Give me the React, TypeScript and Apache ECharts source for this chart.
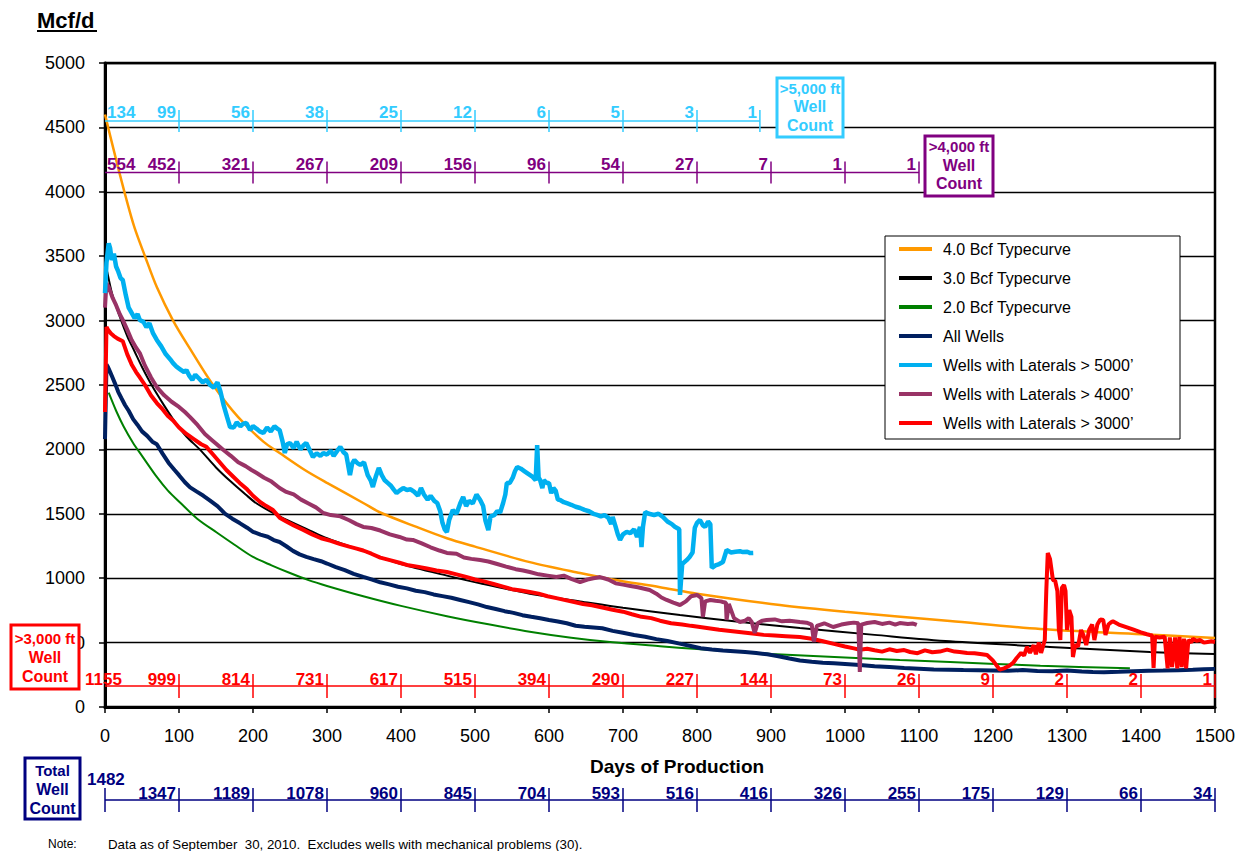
import React, { useEffect, useRef } from 'react';
import * as echarts from 'echarts';

const FONT = 'Arial, "Liberation Sans", Helvetica, sans-serif';

const legendNames = [
  '4.0 Bcf Typecurve',
  '3.0 Bcf Typecurve',
  '2.0 Bcf Typecurve',
  'All Wells',
  'Wells with Laterals > 5000\u2019',
  'Wells with Laterals > 4000\u2019',
  'Wells with Laterals > 3000\u2019',
];

const xTicks = { min: 0, max: 1500, step: 100 };
const yTicks = { min: 0, max: 5000, step: 500 };

const typecurve40 = [[0,4600],[15,4250],[29,3940],[40,3720],[54,3500],[70,3260],[92,3000],[115,2780],[146,2500],[180,2250],[214,2060],[236,1972],[270,1840],[300,1740],[349,1584],[372,1510],[420,1400],[462,1310],[500,1245],[574,1125],[642,1040],[686,990],[750,930],[800,880],[912,792],[1000,740],[1142,668],[1264,605],[1400,565],[1500,536]];

const typecurve30 = [[3,3380],[10,3200],[20,3030],[30,2880],[40,2760],[50,2640],[63,2500],[80,2340],[95,2210],[110,2100],[128,2000],[150,1860],[170,1750],[190,1650],[205,1580],[236,1480],[277,1370],[300,1310],[349,1210],[400,1110],[462,1020],[507,960],[574,880],[642,820],[700,770],[777,714],[850,665],[939,613],[1040,560],[1142,510],[1277,466],[1412,427],[1500,411]];

const typecurve20 = [[5,2440],[15,2300],[25,2180],[38,2050],[50,1950],[70,1786],[85,1680],[101,1590],[125,1460],[151,1355],[175,1260],[200,1165],[225,1100],[250,1040],[275,985],[300,940],[349,860],[400,785],[462,705],[520,640],[574,585],[630,538],[686,502],[750,472],[800,450],[900,412],[1000,385],[1074,365],[1142,350],[1264,320],[1385,300]];

const allWells = [[0,2080],[2,2660],[4,2640],[7,2600],[10,2560],[14,2505],[18,2445],[22,2400],[27,2345],[32,2300],[38,2235],[44,2190],[50,2140],[57,2105],[64,2060],[70,2040],[78,1965],[86,1895],[94,1840],[100,1800],[108,1745],[115,1705],[124,1672],[133,1640],[142,1603],[152,1560],[162,1502],[172,1462],[182,1428],[192,1392],[200,1360],[210,1338],[220,1322],[228,1296],[236,1281],[245,1248],[254,1212],[263,1185],[272,1166],[282,1148],[292,1132],[300,1114],[312,1086],[324,1062],[336,1033],[349,1010],[360,991],[372,968],[384,952],[396,934],[408,921],[420,903],[432,892],[444,874],[456,861],[468,848],[480,831],[492,814],[504,797],[516,776],[528,761],[540,744],[552,731],[564,713],[576,700],[588,689],[600,676],[612,664],[624,650],[636,631],[648,623],[660,617],[672,611],[686,591],[700,576],[715,559],[730,546],[745,527],[760,513],[775,494],[790,476],[805,456],[820,446],[835,439],[850,433],[865,427],[880,419],[895,409],[910,394],[925,376],[939,361],[955,351],[970,344],[985,339],[1000,334],[1020,326],[1040,317],[1060,311],[1080,302],[1100,297],[1120,291],[1140,290],[1160,287],[1180,286],[1200,284],[1220,281],[1240,287],[1260,279],[1280,278],[1300,283],[1320,276],[1335,272],[1350,269],[1370,273],[1390,278],[1410,281],[1430,283],[1450,286],[1470,289],[1485,293],[1500,296]];

const laterals3000 = [[0,2290],[2,2950],[4,2930],[8,2900],[12,2880],[17,2860],[24,2840],[30,2740],[36,2660],[42,2600],[47,2560],[54,2500],[62,2420],[70,2360],[78,2310],[85,2260],[92,2225],[100,2170],[110,2120],[120,2080],[130,2040],[137,2020],[146,1960],[155,1900],[164,1840],[173,1790],[182,1740],[192,1690],[200,1640],[210,1590],[218,1560],[227,1530],[236,1470],[245,1440],[255,1410],[268,1375],[280,1340],[292,1310],[305,1290],[318,1265],[330,1245],[340,1230],[349,1215],[360,1190],[372,1160],[385,1140],[398,1120],[410,1100],[422,1090],[435,1075],[448,1060],[462,1048],[475,1030],[488,1010],[500,990],[512,975],[525,955],[538,935],[550,915],[562,905],[574,893],[586,880],[598,860],[610,845],[622,830],[634,815],[646,800],[658,790],[669,776],[686,755],[700,740],[712,720],[725,700],[738,690],[750,670],[765,650],[780,640],[792,630],[804,621],[818,610],[830,600],[845,590],[860,580],[875,570],[890,560],[905,555],[920,550],[939,543],[955,530],[970,510],[985,490],[1000,470],[1012,455],[1020,445],[1030,452],[1040,440],[1050,430],[1060,448],[1070,435],[1080,442],[1088,427],[1098,418],[1108,440],[1118,425],[1128,430],[1138,445],[1148,430],[1155,427],[1165,420],[1175,418],[1185,410],[1192,404],[1200,360],[1209,290],[1215,300],[1222,320],[1227,342],[1232,380],[1238,420],[1242,400],[1246,466],[1250,420],[1255,480],[1258,410],[1262,500],[1265,420],[1270,520],[1272,900],[1274,1196],[1277,1150],[1281,986],[1284,980],[1287,900],[1289,600],[1291,520],[1293,924],[1296,947],[1298,900],[1300,598],[1303,753],[1306,700],[1308,388],[1311,481],[1315,470],[1319,598],[1322,560],[1326,481],[1330,600],[1334,640],[1337,520],[1341,640],[1345,680],[1349,675],[1352,559],[1356,640],[1360,660],[1362,665],[1370,640],[1380,620],[1390,600],[1400,580],[1408,565],[1412,559],[1415,555],[1417,303],[1419,545],[1425,540],[1432,545],[1436,300],[1439,540],[1442,310],[1446,540],[1449,300],[1452,545],[1455,310],[1458,530],[1461,300],[1464,520],[1468,500],[1470,530],[1475,515],[1480,520],[1485,500],[1490,505],[1495,510],[1500,505]];

const laterals4000 = [[0,3100],[2,3290],[5,3260],[10,3180],[15,3120],[20,3050],[24,3005],[30,2930],[36,2850],[42,2790],[47,2748],[54,2650],[62,2560],[70,2484],[80,2420],[90,2370],[100,2330],[108,2290],[115,2251],[125,2190],[135,2120],[145,2070],[153,2030],[160,1995],[170,1950],[180,1900],[190,1870],[198,1840],[205,1817],[215,1780],[225,1750],[236,1700],[245,1670],[255,1650],[265,1610],[275,1580],[285,1550],[295,1506],[305,1490],[318,1480],[330,1450],[340,1420],[349,1398],[360,1390],[372,1370],[385,1340],[398,1320],[408,1300],[416,1297],[428,1270],[440,1240],[452,1215],[462,1196],[475,1190],[485,1160],[495,1150],[507,1141],[518,1130],[530,1110],[542,1090],[555,1070],[565,1060],[574,1048],[586,1030],[598,1020],[610,1010],[620,1020],[630,995],[642,970],[652,990],[660,1000],[669,1009],[680,990],[690,960],[700,950],[710,940],[720,930],[736,908],[745,880],[752,850],[759,831],[768,810],[777,792],[785,820],[792,860],[800,870],[806,845],[808,699],[811,820],[818,831],[825,825],[832,820],[835,815],[839,810],[840,676],[843,800],[850,690],[858,660],[865,670],[870,690],[874,660],[878,575],[882,650],[888,670],[894,675],[905,680],[915,665],[925,670],[939,660],[948,655],[955,640],[958,505],[962,630],[972,650],[984,621],[995,640],[1005,650],[1012,655],[1018,650],[1020,272],[1022,640],[1030,652],[1040,660],[1050,645],[1060,655],[1068,640],[1074,652],[1085,645],[1092,648],[1097,637]];

const laterals5000 = [[0,3214],[2,3450],[5,3600],[7,3560],[9,3470],[12,3520],[15,3420],[18,3380],[21,3330],[24,3315],[28,3200],[32,3100],[36,3060],[40,3020],[44,3050],[47,3005],[52,2990],[56,2950],[60,2980],[65,2900],[70,2850],[76,2800],[82,2740],[88,2700],[92,2670],[97,2640],[102,2620],[107,2600],[110,2616],[114,2570],[118,2540],[122,2580],[127,2550],[132,2520],[137,2540],[142,2500],[147,2480],[152,2520],[156,2450],[160,2350],[165,2250],[169,2174],[174,2170],[178,2210],[183,2180],[187,2200],[191,2205],[196,2150],[200,2180],[205,2160],[209,2140],[214,2127],[219,2170],[224,2140],[229,2180],[233,2160],[236,2150],[240,2060],[243,1972],[246,2040],[250,2050],[255,2010],[259,2060],[264,2000],[268,2030],[272,2050],[277,1990],[281,1941],[286,1970],[291,1950],[295,1972],[300,1960],[305,1990],[309,1950],[314,1990],[318,2019],[322,1980],[326,1960],[331,1800],[334,1890],[337,1918],[341,1894],[345,1880],[350,1900],[355,1800],[359,1760],[362,1708],[366,1790],[370,1856],[374,1800],[378,1760],[382,1740],[386,1720],[390,1690],[394,1661],[398,1680],[403,1700],[408,1685],[413,1690],[418,1670],[423,1640],[427,1700],[431,1650],[436,1610],[440,1640],[445,1600],[449,1584],[453,1520],[456,1430],[459,1380],[462,1359],[465,1450],[470,1530],[475,1500],[480,1580],[484,1630],[488,1560],[492,1600],[497,1580],[502,1650],[507,1607],[511,1560],[514,1450],[518,1374],[521,1480],[526,1490],[530,1520],[534,1510],[538,1584],[541,1650],[543,1739],[547,1740],[551,1780],[554,1830],[557,1863],[562,1850],[567,1830],[572,1810],[578,1786],[582,1760],[584,2034],[586,1780],[588,1762],[591,1700],[593,1760],[597,1740],[600,1740],[603,1660],[606,1700],[609,1680],[612,1610],[615,1607],[620,1590],[625,1580],[630,1570],[636,1555],[642,1545],[648,1530],[654,1520],[660,1500],[665,1491],[670,1480],[675,1490],[680,1470],[684,1420],[686,1475],[690,1400],[693,1340],[696,1297],[700,1340],[705,1360],[710,1350],[715,1380],[719,1320],[723,1398],[725,1242],[727,1400],[730,1514],[735,1500],[742,1491],[748,1500],[754,1475],[760,1440],[766,1420],[770,1400],[773,1390],[776,1380],[777,870],[780,1110],[786,1140],[790,1165],[794,1200],[797,1390],[800,1430],[804,1452],[808,1410],[811,1398],[815,1440],[818,1420],[820,1079],[825,1100],[830,1110],[835,1126],[840,1219],[846,1200],[852,1205],[858,1210],[862,1203],[868,1205],[872,1195],[876,1196]];

// Well count rows
const cyanCountDays = [0, 100, 200, 300, 400, 500, 600, 700, 800, 885];
const cyanCounts = [134, 99, 56, 38, 25, 12, 6, 5, 3, 1];
const purpleCountDays = [0, 100, 200, 300, 400, 500, 600, 700, 800, 900, 1000, 1100];
const purpleCounts = [554, 452, 321, 267, 209, 156, 96, 54, 27, 7, 1, 1];
const redCountDays = [0, 100, 200, 300, 400, 500, 600, 700, 800, 900, 1000, 1100, 1200, 1300, 1400, 1500];
const redCounts = [1155, 999, 814, 731, 617, 515, 394, 290, 227, 144, 73, 26, 9, 2, 2, 1];
const totalCountDays = [0, 100, 200, 300, 400, 500, 600, 700, 800, 900, 1000, 1100, 1200, 1300, 1400, 1500];
const totalCounts = [1482, 1347, 1189, 1078, 960, 845, 704, 593, 516, 416, 326, 255, 175, 129, 66, 34];

const cyanRowLevel = 4550;
const purpleRowLevel = 4150;
const redRowLevel = 163;
const totalRowLevel = 0.5;

function countRow(name: string, days: number[], counts: number[], level: number, color: string,
  axisIdx: number, start: { dx: number; dy: number; tick: boolean }, labelDy: number, tickHalf: number) {
  return {
    type: 'custom',
    name,
    xAxisIndex: axisIdx,
    yAxisIndex: axisIdx,
    silent: true,
    clip: false,
    z: 4,
    data: days.map((d, i) => [d, counts[i], i === 0 ? d : days[i - 1], i]),
    encode: { x: 0, y: 1 },
    renderItem: (params: any, api: any) => {
      const day = api.value(0);
      const cnt = api.value(1);
      const prev = api.value(2);
      const idx = api.value(3);
      const p = api.coord([day, level]);
      const q = api.coord([prev, level]);
      const children: any[] = [];
      if (idx > 0) {
        children.push({ type: 'line', shape: { x1: q[0], y1: q[1], x2: p[0], y2: p[1] }, style: { stroke: color, lineWidth: 1.5 } });
      }
      if (idx > 0 || start.tick) {
        children.push({ type: 'line', shape: { x1: p[0], y1: p[1] - tickHalf, x2: p[0], y2: p[1] + tickHalf }, style: { stroke: color, lineWidth: 1.5 } });
      }
      const isStart = idx === 0;
      children.push({
        type: 'text',
        x: isStart ? p[0] + start.dx : p[0] - 3,
        y: isStart ? p[1] + start.dy : p[1] + labelDy,
        style: {
          text: String(cnt), fill: color, fontSize: 17, fontWeight: 'bold', fontFamily: FONT,
          align: isStart ? 'left' : 'right', verticalAlign: 'middle',
          textAlign: isStart ? 'left' : 'right', textVerticalAlign: 'middle',
        },
      });
      return { type: 'group', children };
    },
  };
}

function lineSeries(name: string, data: number[][], color: string, width: number, smooth: number | boolean) {
  return {
    type: 'line', name, data, showSymbol: false, symbol: 'none', smooth,
    lineStyle: { color, width }, itemStyle: { color }, emphasis: { disabled: true }, z: 2,
    xAxisIndex: 0, yAxisIndex: 0,
  };
}

function boxGraphic(x: number, y: number, w: number, h: number, color: string, lines: string[], lineYs: number[]) {
  const els: any[] = [
    { type: 'rect', shape: { x, y, width: w, height: h }, style: { fill: '#fff', stroke: color, lineWidth: 3 }, z: 10 },
  ];
  lines.forEach((t, i) => {
    els.push({
      type: 'text', x: x + w / 2, y: lineYs[i], z: 11,
      style: { text: t, fill: color, fontSize: i === 0 ? 15 : 16, fontWeight: 'bold', fontFamily: FONT,
        align: 'center', verticalAlign: 'middle', textAlign: 'center', textVerticalAlign: 'middle' },
    });
  });
  return els;
}

export default function App() {
  const ref = useRef<HTMLDivElement>(null);
  useEffect(() => {
    if (!ref.current) return;
    const chart = echarts.init(ref.current, undefined, { renderer: 'svg' });
    const txt = (text: string, x: number, y: number, size: number, weight: string, align = 'left', color = '#000') => ({
      type: 'text', x, y, z: 11,
      style: { text, fill: color, fontSize: size, fontWeight: weight, fontFamily: FONT,
        align, verticalAlign: 'middle', textAlign: align, textVerticalAlign: 'middle' },
    });
    const plain = (v: number) => String(v);
    const option: any = {
      animation: false,
      backgroundColor: '#fff',
      grid: [
        { left: 105, top: 63, width: 1110, height: 644, show: true, borderColor: '#000', borderWidth: 2.5, backgroundColor: 'transparent', outerBoundsMode: 'none', containLabel: false },
        { left: 105, top: 775, width: 1110, height: 50, show: false, outerBoundsMode: 'none', containLabel: false },
      ],
      xAxis: [
        {
          gridIndex: 0, type: 'value', min: xTicks.min, max: xTicks.max, interval: xTicks.step,
          axisLine: { show: true, onZero: false, lineStyle: { color: '#000', width: 3 } },
          axisTick: { show: true, length: 6, lineStyle: { color: '#000', width: 1.5 } },
          axisLabel: { show: true, fontSize: 18, color: '#000', fontFamily: FONT, margin: 20, formatter: plain },
          splitLine: { show: false },
        },
        { gridIndex: 1, type: 'value', min: xTicks.min, max: xTicks.max, show: false },
      ],
      yAxis: [
        {
          gridIndex: 0, type: 'value', min: yTicks.min, max: yTicks.max, interval: yTicks.step,
          axisLine: { show: true, onZero: false, lineStyle: { color: '#000', width: 3 } },
          axisTick: { show: true, length: 6, lineStyle: { color: '#000', width: 1.5 } },
          axisLabel: { show: true, fontSize: 18, color: '#000', fontFamily: FONT, margin: 20, formatter: plain },
          splitLine: { show: true, lineStyle: { color: '#000', width: 1.3 } },
        },
        { gridIndex: 1, type: 'value', min: 0, max: 1, show: false },
      ],
      legend: {
        data: legendNames,
        orient: 'vertical', left: 899, top: 241, padding: 0, itemGap: 13,
        itemWidth: 33, itemHeight: 4, icon: 'rect', selectedMode: false, z: 6,
        textStyle: { fontFamily: FONT, fontSize: 16, color: '#000', lineHeight: 16, padding: [0, 0, 0, 6] },
      },
      series: [
        lineSeries(legendNames[2], typecurve20, '#008000', 2, 0.3),
        lineSeries(legendNames[1], typecurve30, '#000000', 2, 0.3),
        lineSeries(legendNames[0], typecurve40, '#FF9900', 2.5, 0.3),
        lineSeries(legendNames[3], allWells, '#002060', 4, false),
        lineSeries(legendNames[6], laterals3000, '#FF0000', 4, false),
        lineSeries(legendNames[5], laterals4000, '#993366', 4, false),
        lineSeries(legendNames[4], laterals5000, '#00B0F0', 4.5, false),
        countRow('cyanCount', cyanCountDays, cyanCounts, cyanRowLevel, '#33CCFF', 0, { dx: 2, dy: -8, tick: false }, -8, 11),
        countRow('purpleCount', purpleCountDays, purpleCounts, purpleRowLevel, '#800080', 0, { dx: 2, dy: -8, tick: false }, -8, 11),
        countRow('redCount', redCountDays, redCounts, redRowLevel, '#FF0000', 0, { dx: -20, dy: -7, tick: false }, -7, 12),
        countRow('totalCount', totalCountDays, totalCounts, totalRowLevel, '#000080', 1, { dx: -18, dy: -21, tick: true }, -7, 12),
      ],
      graphic: {
        elements: [
          txt('Mcf/d', 37, 20, 22, 'bold'),
          { type: 'line', shape: { x1: 37, y1: 31, x2: 97, y2: 31 }, style: { stroke: '#000', lineWidth: 2 }, z: 11 },
          txt('Days of Production', 677, 766, 19, 'bold', 'center'),
          txt('Note:', 48, 844, 12, 'normal'),
          txt('Data as of September  30, 2010.  Excludes wells with mechanical problems (30).', 108, 844, 13.3, 'normal'),
          { type: 'rect', shape: { x: 885, y: 236, width: 295, height: 203 }, style: { fill: '#fff', stroke: '#000', lineWidth: 1 }, z: 3 },
          ...boxGraphic(777, 78, 66, 59, '#33CCFF', ['>5,000 ft', 'Well', 'Count'], [88, 106, 125]),
          ...boxGraphic(925, 136, 68, 60, '#800080', ['>4,000 ft', 'Well', 'Count'], [146, 165, 183]),
          ...boxGraphic(11, 625, 68, 64, '#FF0000', ['>3,000 ft', 'Well', 'Count'], [638, 657, 676]),
          ...boxGraphic(25, 758, 55, 61, '#000080', ['Total', 'Well', 'Count'], [770, 789, 808]),
        ],
      },
    };
    chart.setOption(option);
    return () => chart.dispose();
  }, []);
  return <div ref={ref} style={{ position: 'absolute', left: 0, top: 0, width: 1242, height: 851 }} />;
}
